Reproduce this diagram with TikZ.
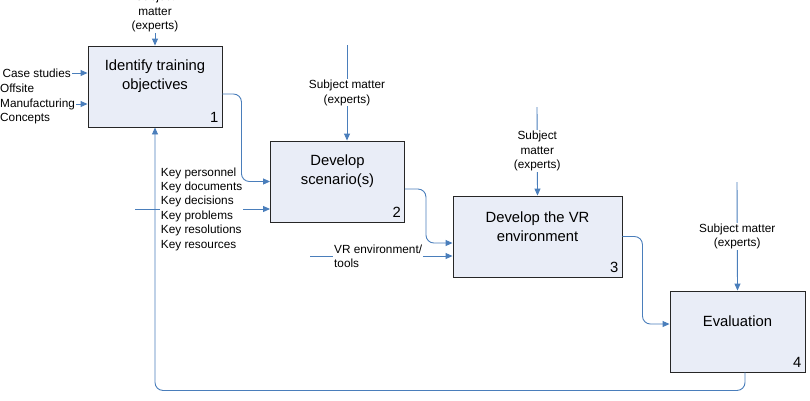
\documentclass[tikz,border=0pt]{standalone}
\usepackage{fontspec}
\setmainfont{Liberation Sans}
\usetikzlibrary{arrows.meta,calc}
\definecolor{flowblue}{RGB}{74,126,187}
\definecolor{boxfill}{RGB}{233,237,247}
\begin{document}
\begin{tikzpicture}[x=1pt,y=-1pt,
  box/.style={draw=black!85,line width=0.9pt,fill=boxfill,minimum width=134pt,minimum height=81pt,inner sep=0pt},
  ttl/.style={font=\fontsize{14.8}{19}\selectfont,align=center,inner sep=0pt},
  num/.style={font=\fontsize{14.8}{17}\selectfont,anchor=south east,inner sep=0pt},
  lbl/.style={font=\fontsize{11.8}{14.4}\selectfont,align=center,inner sep=1pt},
  lbll/.style={font=\fontsize{11.8}{14.4}\selectfont,align=left,inner sep=1pt},
  flow/.style={draw=flowblue,line width=0.9pt,-{Triangle[length=7pt,width=6pt]}},
  plain/.style={draw=flowblue,line width=0.9pt}]
\useasboundingbox (0,0) rectangle (810,400);

% boxes
\node[box] (b1) at (155,86.5) {};
\node[box] (b2) at (337.5,181.5) {};
\node[box,minimum width=169pt] (b3) at (537.5,236.5) {};
\node[box,minimum width=135pt] (b4) at (737.5,331.5) {};

\node[ttl] (t1) at ([yshift=-31pt]b1.north) {Identify training\\objectives};
\node[ttl] (t2) at ([yshift=-31pt]b2.north) {Develop\\scenario(s)};
\node[ttl] (t3) at ([yshift=-31pt]b3.north) {Develop the VR\\environment};
\node[ttl] (t4) at ([yshift=-31pt]b4.north) {Evaluation};

\node[num] (n1) at ([xshift=-4pt,yshift=4.3pt]b1.south east) {1};
\node[num] (n2) at ([xshift=-4pt,yshift=4.3pt]b2.south east) {2};
\node[num] (n3) at ([xshift=-4pt,yshift=4.3pt]b3.south east) {3};
\node[num] (n4) at ([xshift=-4pt,yshift=4.3pt]b4.south east) {4};

% box 1 inputs
\node[lbl] (s1) at (155,12) {Subject\\matter\\(experts)};
\draw[flow] (s1.south) -- (b1.north);
\node[lbll,anchor=east] (cs) at (72,73) {Case studies};
\draw[flow] (cs.east) -- (cs.east -| b1.west);
\node[lbll,anchor=west] (om) at (-1,104) {Offsite\\Manufacturing\\Concepts};
\draw[flow] (om.east) -- (om.east -| b1.west);

% box 2 inputs
\coordinate (c2) at (347,45);
\draw[flow] (c2) -- node[lbl,fill=white] (s2) {Subject matter\\(experts)} ([xshift=9.5pt]b2.north);
\coordinate (kstart) at (135,209);
\node[lbll,anchor=west] (keys) at (159.7,209) {Key personnel\\Key documents\\Key decisions\\Key problems\\Key resolutions\\Key resources};
\draw[plain] (kstart) -- (keys.west);
\draw[flow] (keys.east) -- (keys.east -| b2.west);

% box 3 inputs
\coordinate (c3) at (537,107);
\draw[flow] (c3) -- node[lbl,fill=white] (s3) {Subject\\matter\\(experts)} (b3.north);
\coordinate (vstart) at (310,256);
\node[lbll,anchor=west] (vr) at (333,256) {VR environment/\\tools};
\draw[plain] (vstart) -- (vr.west);
\draw[flow] (vr.east) -- (vr.east -| b3.west);

% box 4 inputs
\coordinate (c4) at (737,182);
\draw[flow] (c4) -- node[lbl,fill=white] (s4) {Subject matter\\(experts)} (b4.north);

% flows between boxes
\draw[flow,rounded corners=8pt] ([yshift=-7.5pt]b1.east) -- ++(19,0) |- (b2.west);
\draw[flow,rounded corners=8pt] ([yshift=-7.5pt]b2.east) -- ++(21,0) |- ([yshift=-6.5pt]b3.west);
\draw[flow,rounded corners=8pt] (b3.east) -- ++(20,0) |- ([yshift=7.5pt]b4.west);
\draw[flow,rounded corners=8pt] ([xshift=7.5pt]b4.south) -- ++(0,18) -| (b1.south);
\end{tikzpicture}
\end{document}
